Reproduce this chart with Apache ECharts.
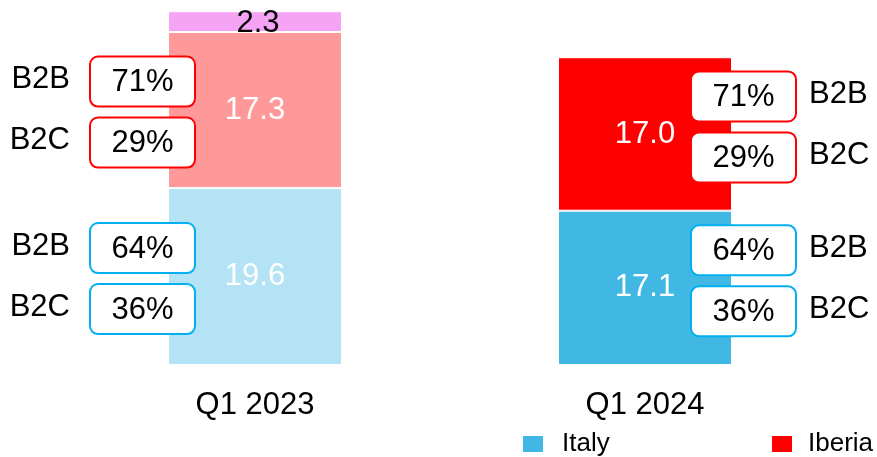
<!DOCTYPE html>
<html><head><meta charset="utf-8">
<script src="https://cdn.jsdelivr.net/npm/echarts@6/dist/echarts.min.js"></script>
<style>html,body{margin:0;padding:0;background:#fff}#c{width:877px;height:457px}</style>
</head><body><div id="c"></div>
<script>
const categories = ['Q1 2023', 'Q1 2024'];
const italy = [19.6, 17.1];
const iberia = [17.3, 17.0];
const other = [2.3, null];
const iberiaSplit = [['71%', '29%'], ['71%', '29%']];
const italySplit = [['64%', '36%'], ['64%', '36%']];
const splitNames = ['B2B', 'B2C'];
const legendNames = ['Italy', 'Iberia'];

const FONT = '"Liberation Sans", Arial, sans-serif';
const FS = 31;
const italyColors = ['#B3E3F4', '#41B8E4'];
const iberiaColors = ['#FF9999', '#FF0000'];
const otherColor = '#F5A3F5';

const chart = echarts.init(document.getElementById('c'), null, {renderer: 'canvas'});

function items(vals, colors) {
  return vals.map((v, i) => ({value: v, itemStyle: {color: colors[i]}}));
}

function legendFor(name, left, gap) {
  return {
    data: [name], left: left, top: 431, padding: 0,
    icon: 'rect', itemWidth: 20, itemHeight: 16,
    itemStyle: {borderWidth: 0},
    textStyle: {fontSize: 26, lineHeight: 26, fontFamily: FONT, color: '#000', padding: [0, 0, 0, gap]}
  };
}

chart.setOption({
  animation: false,
  backgroundColor: '#fff',
  grid: {left: 60, right: 37, top: 4, bottom: 92},
  legend: [legendFor(legendNames[0], 523, 14), legendFor(legendNames[1], 772, 11)],
  xAxis: {
    type: 'category', data: categories,
    axisLine: {show: false}, axisTick: {show: false},
    axisLabel: {fontSize: FS, fontFamily: FONT, color: '#000', margin: 25}
  },
  yAxis: {type: 'value', min: 0, max: 40, show: false, splitLine: {show: false}},
  series: [
    {
      name: legendNames[0], type: 'bar', stack: 's', barWidth: 174,
      itemStyle: {color: italyColors[1], borderColor: '#fff', borderWidth: 1},
      label: {show: true, position: 'inside', color: '#fff', fontSize: FS, fontFamily: FONT,
              formatter: p => p.value.toFixed(1)},
      data: items(italy, italyColors)
    },
    {
      name: legendNames[1], type: 'bar', stack: 's', barWidth: 174,
      itemStyle: {color: iberiaColors[1], borderColor: '#fff', borderWidth: 1},
      label: {show: true, position: 'inside', color: '#fff', fontSize: FS, fontFamily: FONT,
              formatter: p => p.value.toFixed(1)},
      data: items(iberia, iberiaColors)
    },
    {
      name: 'Other', type: 'bar', stack: 's', barWidth: 174,
      itemStyle: {color: otherColor, borderColor: '#fff', borderWidth: 1},
      label: {show: true, position: 'inside', color: '#000', fontSize: FS, fontFamily: FONT,
              offset: [3, 2],
              formatter: p => p.value == null ? '' : p.value.toFixed(1)},
      data: other
    }
  ]
});

// annotation boxes positioned from data via the chart's own scales
const graphics = [];
const BW = 105, BH = 50, BGAP = 11;
categories.forEach((c, i) => {
  const cx = chart.convertToPixel({gridIndex: 0}, [i, 0])[0];
  const left = i === 0;
  const boxCx = left ? cx - 112.5 : cx + 98.5;
  const shift = left ? 2 : -7;
  const groups = [
    {center: italy[i] + iberia[i] / 2, vals: iberiaSplit[i], color: '#FF0000'},
    {center: italy[i] / 2, vals: italySplit[i], color: '#00B0F0'}
  ];
  groups.forEach(g => {
    const cy = chart.convertToPixel({gridIndex: 0}, [i, g.center])[1] + shift;
    g.vals.forEach((v, k) => {
      const by = cy + (k === 0 ? -(BH + BGAP) / 2 : (BH + BGAP) / 2);
      graphics.push({
        type: 'rect', z: 100,
        shape: {x: boxCx - BW / 2, y: by - BH / 2, width: BW, height: BH, r: 8},
        style: {fill: '#fff', stroke: g.color, lineWidth: 2}
      });
      graphics.push({
        type: 'text', z: 101, x: boxCx, y: by + 1,
        style: {text: v, fontSize: FS, fontFamily: FONT, fill: '#000', align: 'center', verticalAlign: 'middle'}
      });
      graphics.push({
        type: 'text', z: 101,
        x: left ? boxCx - BW / 2 - 20 : boxCx + BW / 2 + 13, y: by - 2,
        style: {text: splitNames[k], fontSize: FS, fontFamily: FONT, fill: '#000',
                align: left ? 'right' : 'left', verticalAlign: 'middle'}
      });
    });
  });
});
chart.setOption({graphic: {elements: graphics}});
</script></body></html>
